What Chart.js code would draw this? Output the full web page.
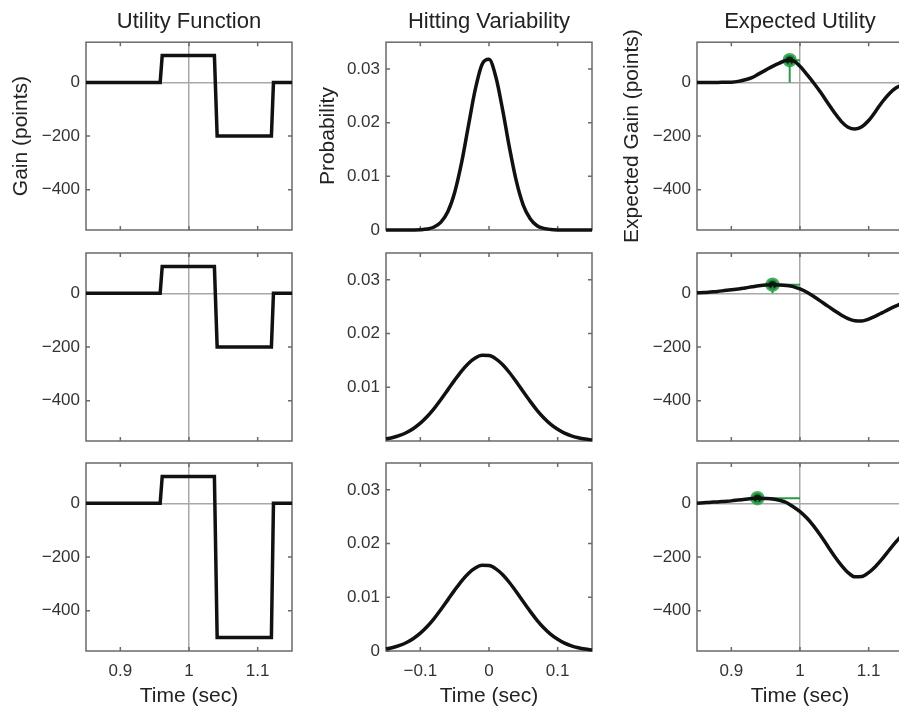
<!DOCTYPE html>
<html><head><meta charset="utf-8">
<script src="https://cdn.jsdelivr.net/npm/chart.js@4"></script>
<style>
html,body{margin:0;padding:0;background:#fff;overflow:hidden;width:899px;height:709px;position:relative}
canvas{position:absolute}
</style></head><body>
<script>
// ---------- data ----------
const colTitles = ['Utility Function', 'Hitting Variability', 'Expected Utility'];
const yTitles = ['Gain (points)', 'Probability', 'Expected Gain (points)'];
const xTitle = 'Time (sec)';

const timeTicks = [0.9, 1, 1.1];
const errTicks = [-0.1, 0, 0.1];
const gainTicks = [-400, -200, 0];
const probTicksRow = [[0, 0.01, 0.02, 0.03], [0.01, 0.02, 0.03], [0, 0.01, 0.02, 0.03]];

const utilT = [0.85, 0.958, 0.961, 1.037, 1.041, 1.12, 1.123, 1.15];
const utilGain1 = [0, 0, 100, 100, -200, -200, 0, 0];
const utilGain2 = [0, 0, 100, 100, -200, -200, 0, 0];
const utilGain3 = [0, 0, 100, 100, -500, -500, 0, 0];

const hitT = [-0.15,-0.14,-0.13,-0.12,-0.11,-0.10,-0.09,-0.08,-0.07,-0.06,-0.05,-0.04,-0.03,-0.02,-0.01,0,
              0.01,0.02,0.03,0.04,0.05,0.06,0.07,0.08,0.09,0.10,0.11,0.12,0.13,0.14,0.15];
const hitProb1 = [0,0,0,0,0.00001,0.00005,0.00018,0.00055,0.00147,0.0034,0.0070,0.0125,0.0194,0.0262,0.0309,0.0318,
                  0.0285,0.0223,0.0152,0.0090,0.0046,0.0021,0.0008,0.0003,0.0001,0.00002,0,0,0,0,0];
const hitProb2 = [0.0004,0.00065,0.00104,0.00158,0.00233,0.00332,0.00456,0.00604,0.00772,0.00952,0.01133,0.01302,0.01444,0.01545,0.01595,0.0159,
                  0.01529,0.01419,0.0127,0.01098,0.00915,0.00737,0.00572,0.00429,0.0031,0.00217,0.00146,0.00095,0.0006,0.00036,0.00021];
const hitProb3 = [0.0004,0.00065,0.00104,0.00158,0.00233,0.00332,0.00456,0.00604,0.00772,0.00952,0.01133,0.01302,0.01444,0.01545,0.01595,0.0159,
                  0.01529,0.01419,0.0127,0.01098,0.00915,0.00737,0.00572,0.00429,0.0031,0.00217,0.00146,0.00095,0.0006,0.00036,0.00021];

const euT = [0.85,0.86,0.87,0.88,0.89,0.90,0.91,0.92,0.93,0.94,0.95,0.96,0.97,0.98,0.99,1.00,
             1.01,1.02,1.03,1.04,1.05,1.06,1.07,1.08,1.09,1.10,1.11,1.12,1.13,1.14,1.15];
const euGain1 = [0,0,0,0,0.5,1,4,10,18,32,46,60,72,82,81,60,30,-2,-37,-75,-112,-145,-167,-174,-165,-142,-108,-72,-42,-20,-8];
const euGain2 = [2,3,5,7,10,13,16,20,24,28,31,32,31,29,25,16,4,-12,-29,-47,-64,-81,-94,-102,-103,-96,-85,-72,-59,-47,-36];
const euGain3 = [0,2,4,5,7,9,12,15,18,19,18,16,11,3,-13,-31,-55,-85,-120,-158,-196,-230,-258,-274,-273,-258,-235,-206,-174,-143,-115];

const optT = [0.985, 0.96, 0.938];
const optGain = [83, 32, 19];
const aimT = 1;

// ---------- layout ----------
const FONT = '"Liberation Sans", Arial, Helvetica, sans-serif';
const colLeft = [0, 300, 611];
const rowTop = [0, 247, 457];
const rowH = [242, 206, 252];
const xAxisH = [12, 12, 58];
const CW = 296;

const utilRows = [utilGain1, utilGain2, utilGain3];
const hitRows = [hitProb1, hitProb2, hitProb3];
const euRows = [euGain1, euGain2, euGain3];

const fmt = v => (v < 0 ? '\u2212' + String(-v) : String(v));
const zeroPad = s => { s.paddingLeft = 0; s.paddingRight = 0; s.paddingTop = 0; s.paddingBottom = 0; };

const framePlugin = {
  id: 'frame',
  beforeDatasetsDraw(chart) {
    const {ctx, chartArea: a, scales: {x, y}} = chart;
    ctx.save();
    ctx.strokeStyle = '#6a6a6a';
    ctx.lineWidth = 1.5;
    ctx.strokeRect(a.left, a.top, a.right - a.left, a.bottom - a.top);
    ctx.beginPath();
    x.ticks.forEach(t => {
      const p = x.getPixelForValue(t.value);
      ctx.moveTo(p, a.top); ctx.lineTo(p, a.top + 4);
      ctx.moveTo(p, a.bottom); ctx.lineTo(p, a.bottom - 4);
    });
    y.ticks.forEach(t => {
      const p = y.getPixelForValue(t.value);
      ctx.moveTo(a.left, p); ctx.lineTo(a.left + 4, p);
      ctx.moveTo(a.right, p); ctx.lineTo(a.right - 4, p);
    });
    ctx.stroke();
    ctx.restore();
  }
};

const pts = (xs, ys) => xs.map((v, i) => ({x: v, y: ys[i]}));

function makeCell(r, c) {
  const cv = document.createElement('canvas');
  cv.width = CW; cv.height = rowH[r];
  cv.style.left = colLeft[c] + 'px';
  cv.style.top = rowTop[r] + 'px';
  cv.style.width = CW + 'px';
  cv.style.height = rowH[r] + 'px';
  document.body.appendChild(cv);

  let datasets, xmin, xmax, xt, ymin, ymax, yt, refLines;
  const black = {borderColor: '#111', borderWidth: 3.5, pointRadius: 0, clip: false, fill: false};
  if (c === 0) {
    datasets = [{...black, data: pts(utilT, utilRows[r]), tension: 0}];
    xmin = 0.85; xmax = 1.15; xt = timeTicks; ymin = -550; ymax = 150; yt = gainTicks; refLines = true;
  } else if (c === 1) {
    datasets = [{...black, data: pts(hitT, hitRows[r]), cubicInterpolationMode: 'monotone'}];
    xmin = -0.15; xmax = 0.15; xt = errTicks; ymin = 0; ymax = 0.035; yt = probTicksRow[r]; refLines = false;
  } else {
    datasets = [
      {...black, data: pts(euT, euRows[r]), cubicInterpolationMode: 'monotone'},
      {data: [{x: aimT, y: optGain[r]}, {x: optT[r], y: optGain[r]}, {x: optT[r], y: 0}],
       borderColor: '#2f9a45', borderWidth: 2, pointRadius: 0, tension: 0, clip: false, fill: false},
      {data: [{x: optT[r], y: optGain[r]}], showLine: false, pointRadius: 5.5, pointBorderWidth: 3.5,
       pointBackgroundColor: '#0b2412', pointBorderColor: 'rgba(40,165,70,0.85)', clip: false}
    ];
    xmin = 0.85; xmax = 1.15; xt = timeTicks; ymin = -550; ymax = 150; yt = gainTicks; refLines = true;
  }

  new Chart(cv, {
    type: 'line',
    data: {datasets},
    plugins: [framePlugin],
    options: {
      responsive: false,
      animation: false,
      devicePixelRatio: 1,
      layout: {autoPadding: false, padding: {left: 0, right: 4, top: r === 0 ? 0 : 6, bottom: 0}},
      plugins: {
        legend: {display: false},
        tooltip: {enabled: false},
        title: {
          display: r === 0, text: colTitles[c], fullSize: false,
          color: '#222', font: {family: FONT, size: 22, weight: 'normal', lineHeight: 1.15},
          padding: {top: 9, bottom: 7.9}
        }
      },
      scales: {
        x: {
          type: 'linear', min: xmin, max: xmax,
          afterBuildTicks: s => { s.ticks = xt.map(v => ({value: v})); },
          afterFit: s => { s.height = xAxisH[r]; zeroPad(s); },
          border: {display: false},
          grid: {
            drawTicks: false, lineWidth: 1.5,
            color: ctx => (refLines && ctx.tick && ctx.tick.value === 1) ? '#a8a8a8' : 'rgba(0,0,0,0)'
          },
          ticks: {display: r === 2, padding: 10, autoSkip: false, maxRotation: 0,
                  color: '#333', font: {family: FONT, size: 17}, callback: v => fmt(v)},
          title: {display: r === 2, text: xTitle, color: '#222',
                  font: {family: FONT, size: 21}, padding: {top: 0, bottom: 0}}
        },
        y: {
          type: 'linear', min: ymin, max: ymax,
          afterBuildTicks: s => { s.ticks = yt.map(v => ({value: v})); },
          afterFit: s => { s.width = 86; zeroPad(s); },
          border: {display: false},
          grid: {
            drawTicks: false, lineWidth: 1.5,
            color: ctx => (refLines && ctx.tick && ctx.tick.value === 0) ? '#a8a8a8' : 'rgba(0,0,0,0)'
          },
          ticks: {padding: 6, autoSkip: false, color: '#333',
                  font: {family: FONT, size: 17}, callback: v => fmt(v)},
          title: {display: r === 0, text: yTitles[c], color: '#222',
                  font: {family: FONT, size: 21}, padding: {top: c === 1 ? 15.4 : 8.4, bottom: 0}}
        }
      }
    }
  });
}

for (let r = 0; r < 3; r++) for (let c = 0; c < 3; c++) makeCell(r, c);
</script>
</body></html>
